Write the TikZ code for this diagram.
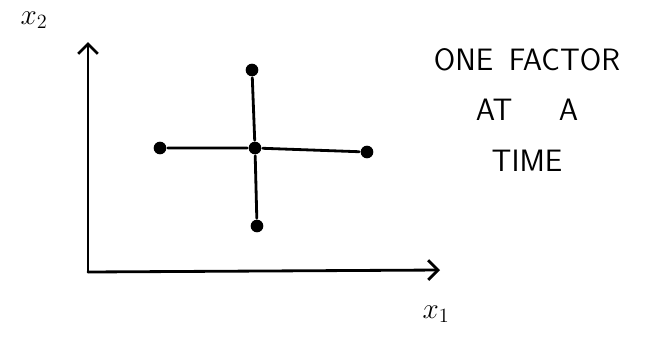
\documentclass[tikz,border=0pt]{standalone}
\usepackage{tikz}
\usetikzlibrary{arrows.meta,positioning}

\begin{document}
\begin{tikzpicture}[x=0.025cm,y=-0.025cm,
    line width=2pt,line cap=round,
    dot/.style={circle,fill=black,inner sep=0pt,minimum size=9pt},
    axis/.style={-{Straight Barb[length=7pt,width=14pt,line width=2pt]}},
    lbl/.style={font=\fontsize{20}{24}\selectfont}]
\useasboundingbox (0,0) rectangle (646,338);
% axes
\coordinate (o) at (88,272);
\coordinate (ytop) at (88,42);
\coordinate (xend) at (440,270);
\draw[axis] (o) -- (ytop);
\draw[axis] (o) -- (xend);
\node[lbl] (x2) at (34,20) {$x_2$};
\node[lbl] (x1) at (436,314) {$x_1$};
% design points
\node[dot] (c) at (255,148) {};
\node[dot] (t) at (252,70) {};
\node[dot] (b) at (257,226) {};
\node[dot] (l) at (160,148) {};
\node[dot] (r) at (367,152) {};
\draw (t) -- (c) -- (b);
\draw (l) -- (c) -- (r);
% caption
\node[font=\sffamily\fontsize{22}{36}\selectfont,align=center] (cap) at (527,110)
  {ONE\enspace FACTOR\\AT\quad\enspace A\\TIME};
\end{tikzpicture}
\end{document}
